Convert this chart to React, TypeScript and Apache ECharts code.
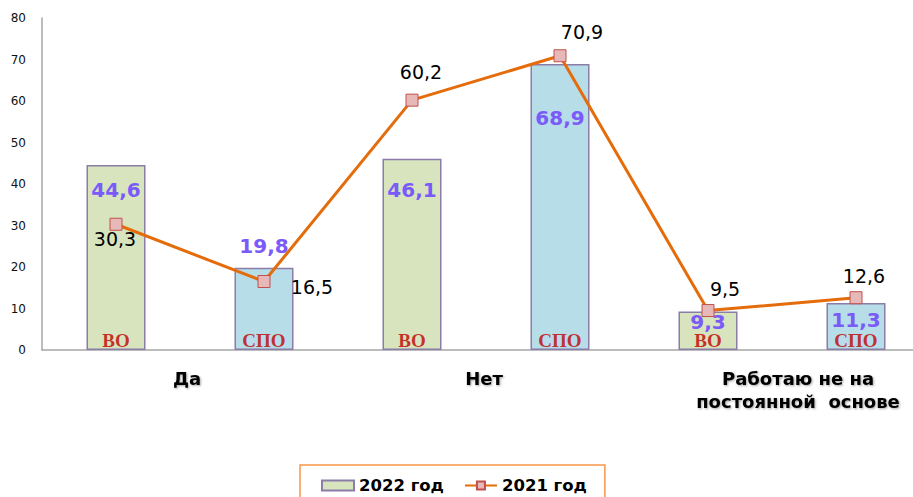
import React, { useEffect, useRef } from "react";
import * as echarts from "echarts";

const groups = ["Да", "Нет", "Работаю не на\nпостоянной  основе"];
const subLabels = ["ВО", "СПО", "ВО", "СПО", "ВО", "СПО"];
const values2022 = [44.6, 19.8, 46.1, 68.9, 9.3, 11.3];
const values2021 = [30.3, 16.5, 60.2, 70.9, 9.5, 12.6];
const yTicks = { min: 0, max: 80, interval: 10 };

// label placement styles (offsets in px)
const barLabelDy = [25, -22, 31, 54, 11, 17];
const lineLabelOffset = [
  [-1, 15],
  [48, 5],
  [9, -28],
  [22, -24],
  [17, -22],
  [8, -22],
];
const groupLabelShift = [-6, -4, 32];
const barColors = ["#d7e4bd", "#b7dde8"];

const fmt = (v: number) => String(v).replace(".", ",");

export default function App() {
  const ref = useRef<HTMLDivElement>(null);
  useEffect(() => {
    if (!ref.current) return;
    const chart = echarts.init(ref.current, null, { renderer: "svg" });
    const font = "'DejaVu Sans', Verdana, sans-serif";
    const groupStyle = {
      fontSize: 18,
      fontWeight: "bold",
      lineHeight: 23,
      color: "#000",
      fontFamily: font,
      textShadowColor: "rgba(0,0,0,0.35)",
      textShadowBlur: 2,
      textShadowOffsetX: 1,
      textShadowOffsetY: 1,
    };
    const rich: any = {};
    groupLabelShift.forEach((s, i) => {
      rich["g" + i] = {
        ...groupStyle,
        padding: s >= 0 ? [0, 0, 0, s] : [0, -s, 0, 0],
      };
    });
    chart.setOption({
      animation: false,
      textStyle: { fontFamily: font },
      grid: { left: 42, right: 0, top: 18, bottom: 147 },
      legend: {
        data: [
          { name: "2022 год", icon: "rect" },
          { name: "2021 год" },
        ],
        left: 300,
        top: 465,
        padding: [12, 18, 20, 21],
        borderColor: "#f79646",
        borderWidth: 1.5,
        itemWidth: 32,
        itemHeight: 10,
        itemGap: 20,
        textStyle: { fontSize: 16.5, fontWeight: "bold", color: "#000", fontFamily: font },
      },
      xAxis: [
        {
          type: "category",
          data: subLabels,
          axisLine: { lineStyle: { color: "#a6a6a6", width: 1.5 } },
          axisTick: { show: false },
          axisLabel: { show: false },
        },
        {
          type: "category",
          data: groups,
          position: "bottom",
          axisLine: { show: false },
          axisTick: { show: false },
          axisLabel: {
            interval: 0,
            margin: 17,
            ...groupStyle,
            formatter: (v: string, i: number) =>
              v
                .split("\n")
                .map((line) => `{g${i}|${line}}`)
                .join("\n"),
            rich,
          },
        },
      ],
      yAxis: {
        type: "value",
        min: yTicks.min,
        max: yTicks.max,
        interval: yTicks.interval,
        splitLine: { show: false },
        axisTick: { show: false },
        axisLine: { show: true, lineStyle: { color: "#a6a6a6", width: 1.5 } },
        axisLabel: { margin: 16, fontSize: 12, color: "#111", fontFamily: font },
      },
      series: [
        {
          name: "2022 год",
          type: "bar",
          xAxisIndex: 0,
          barWidth: 59,
          itemStyle: { color: barColors[0], borderColor: "#8c7ca8", borderWidth: 1.5 },
          label: {
            show: true,
            position: "insideTop",
            distance: 0,
            verticalAlign: "middle",
            fontSize: 20,
            fontWeight: "bold",
            color: "#7a5af8",
            fontFamily: font,
            formatter: (p: any) => fmt(p.value),
          },
          data: values2022.map((v, i) => ({
            value: v,
            itemStyle: { color: barColors[i % 2] },
            label: { offset: [0, barLabelDy[i]] },
          })),
          z: 2,
        },
        {
          name: "sub",
          type: "scatter",
          xAxisIndex: 0,
          symbolSize: 1,
          itemStyle: { color: "rgba(0,0,0,0)" },
          silent: true,
          label: {
            show: true,
            position: "inside",
            offset: [0, -10],
            fontSize: 19,
            fontWeight: "bold",
            color: "#c00000",
            fontFamily: "'Liberation Serif', 'Times New Roman', serif",
            formatter: (p: any) => subLabels[p.dataIndex],
          },
          data: subLabels.map((_, i) => [i, 0]),
          z: 3,
        },
        {
          name: "2021 год",
          type: "line",
          xAxisIndex: 0,
          symbol: "rect",
          symbolSize: 12,
          lineStyle: { color: "#e46c0a", width: 3 },
          itemStyle: { color: "#e6b9b8", borderColor: "#c0504d", borderWidth: 1 },
          label: {
            show: true,
            position: "inside",
            fontSize: 19,
            color: "#000",
            fontFamily: font,
            formatter: (p: any) => fmt(p.value),
          },
          data: values2021.map((v, i) => ({
            value: v,
            label: { offset: lineLabelOffset[i] },
          })),
          z: 5,
        },
      ],
    });
    return () => chart.dispose();
  }, []);
  return (
    <div
      style={{
        position: "fixed",
        left: 0,
        top: 0,
        width: 913,
        height: 497,
        overflow: "hidden",
        background: "#fff",
      }}
    >
      <div ref={ref} style={{ width: 930, height: 497 }} />
    </div>
  );
}
